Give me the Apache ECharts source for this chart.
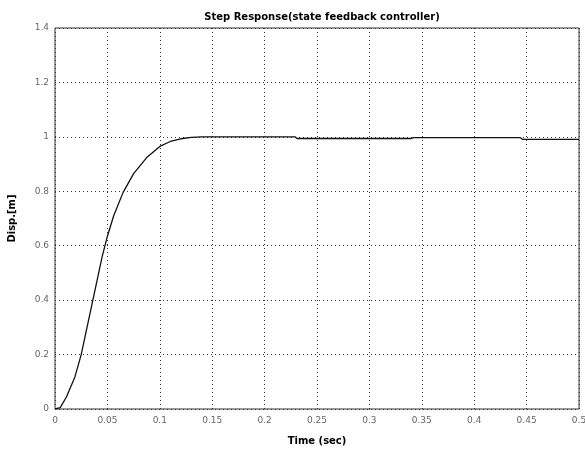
<!DOCTYPE html>
<html><head><meta charset="utf-8">
<script src="https://cdn.jsdelivr.net/npm/echarts@6/dist/echarts.min.js"></script>
<style>html,body{margin:0;padding:0;background:#fff}#c{width:585px;height:450px}</style>
</head><body><div id="c"></div>
<script>
var timeSec = [0, 0.005, 0.011, 0.019, 0.025, 0.03, 0.035, 0.04, 0.045, 0.05, 0.056, 0.065, 0.075, 0.0875, 0.1, 0.11, 0.12, 0.13, 0.14, 0.229, 0.231, 0.34, 0.342, 0.444, 0.446, 0.5];
var disp    = [0, 0.005, 0.045, 0.118, 0.2, 0.29, 0.38, 0.47, 0.56, 0.635, 0.71, 0.796, 0.865, 0.924, 0.965, 0.983, 0.993, 0.998, 1.0, 1.0, 0.994, 0.994, 0.997, 0.997, 0.991, 0.991];
var xTicks = ['0','0.05','0.1','0.15','0.2','0.25','0.3','0.35','0.4','0.45','0.5'];
var yTicks = ['0','0.2','0.4','0.6','0.8','1','1.2','1.4'];

var pts = timeSec.map(function(t,i){return [t, disp[i]];});
var chart = echarts.init(document.getElementById('c'), null, {renderer:'canvas'});
var lblFont = {color:'#666', fontSize:9, fontFamily:'DejaVu Sans'};
chart.setOption({
  animation:false,
  backgroundColor:'#fff',
  title:{text:'Step Response(state feedback controller)', left:317, top:7, textAlign:'center',
    textStyle:{fontSize:10, fontWeight:'bold', color:'#000', fontFamily:'DejaVu Sans'}},
  grid:{left:55, right:6, top:28, bottom:41, show:true, borderColor:'#333', borderWidth:1,
    containLabel:false, outerBoundsMode:'none'},
  xAxis:{type:'value', min:0, max:0.5, interval:0.05,
    name:'Time (sec)', nameLocation:'middle', nameGap:27,
    nameTextStyle:{fontSize:10, fontWeight:'bold', color:'#000', fontFamily:'DejaVu Sans'},
    axisLine:{show:false}, axisTick:{show:false},
    axisLabel:Object.assign({margin:7, formatter:function(v){var i=Math.round(v/0.05);return xTicks[i]!==undefined?xTicks[i]:'';}}, lblFont),
    splitLine:{show:true, lineStyle:{type:[1,3], color:'#333', width:1}}},
  yAxis:{type:'value', min:0, max:1.4, interval:0.2,
    name:'Disp.[m]', nameLocation:'middle', nameGap:38, nameRotate:90,
    nameTextStyle:{fontSize:10, fontWeight:'bold', color:'#000', fontFamily:'DejaVu Sans'},
    axisLine:{show:false}, axisTick:{show:false},
    axisLabel:Object.assign({margin:6, formatter:function(v){var i=Math.round(v/0.2);return yTicks[i]!==undefined?yTicks[i]:'';}}, lblFont),
    splitLine:{show:true, lineStyle:{type:[1,3], color:'#333', width:1}}},
  series:[{type:'line', data:pts, showSymbol:false, smooth:false,
    lineStyle:{color:'#111', width:1.3}}]
});
</script></body></html>
